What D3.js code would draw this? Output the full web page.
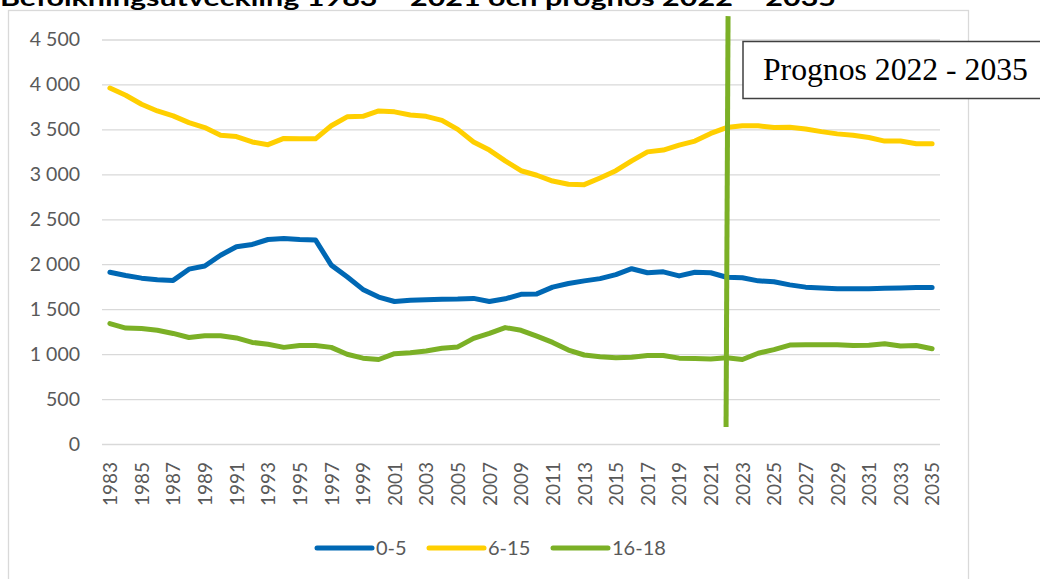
<!DOCTYPE html>
<html>
<head>
<meta charset="utf-8">
<script src="https://cdn.jsdelivr.net/npm/d3@7"></script>
<style>
  body { margin: 0; background: #fff; }
  svg { display: block; }
</style>
</head>
<body>
<script>
var WIDTH = 1040,
    HEIGHT = 579;

var years = [1983, 1984, 1985, 1986, 1987, 1988, 1989, 1990, 1991, 1992, 1993, 1994, 1995, 1996,
    1997, 1998, 1999, 2000, 2001, 2002, 2003, 2004, 2005, 2006, 2007, 2008, 2009,
    2010, 2011, 2012, 2013, 2014, 2015, 2016, 2017, 2018, 2019, 2020, 2021, 2022,
    2023, 2024, 2025, 2026, 2027, 2028, 2029, 2030, 2031, 2032, 2033, 2034, 2035];

var age0_5 = [1910, 1875, 1845, 1828, 1820, 1945, 1980, 2100, 2195, 2220, 2275, 2285, 2275, 2270,
    1990, 1860, 1720, 1635, 1585, 1600, 1605, 1610, 1613, 1620, 1585, 1615, 1665,
    1670, 1745, 1785, 1815, 1840, 1885, 1950, 1905, 1915, 1870, 1910, 1905, 1855,
    1850, 1815, 1805, 1770, 1745, 1735, 1728, 1728, 1728, 1732, 1736, 1740, 1740];

var age6_15 = [3960, 3880, 3780, 3705, 3650, 3575, 3520, 3435, 3420, 3360, 3330, 3400, 3395, 3395,
    3540, 3640, 3645, 3705, 3695, 3660, 3645, 3600, 3500, 3360, 3270, 3150, 3040,
    2990, 2925, 2890, 2885, 2960, 3040, 3150, 3250, 3270, 3325, 3370, 3455, 3520,
    3540, 3540, 3520, 3525, 3505, 3475, 3450, 3435, 3410, 3370, 3370, 3340, 3340];

var age16_18 = [1340, 1290, 1285, 1265, 1230, 1185, 1205, 1205, 1180, 1130, 1110, 1075, 1095, 1095,
    1075, 998, 955, 940, 1005, 1015, 1035, 1065, 1080, 1175, 1230, 1295, 1265,
    1200, 1130, 1045, 990, 970, 960, 965, 985, 985, 955, 950, 945, 960,
    940, 1010, 1050, 1100, 1105, 1105, 1105, 1095, 1098, 1115, 1090, 1095, 1060];

var seriesNames = ['0-5', '6-15', '16-18'];
var seriesColors = ['#0068b4', '#ffcf00', '#7bb026'];
var yTicks = [0, 500, 1000, 1500, 2000, 2500, 3000, 3500, 4000, 4500];

var titleText = 'Befolkningsutveckling 1983 \u2013 2021 och prognos 2022 \u2013 2035';
var prognosText = 'Prognos 2022 - 2035';
var prognosYear = 2022;

var LABEL_FONT = 'Lato, "Open Sans", sans-serif';
var LABEL_COLOR = '#595959';
var GRID_COLOR = '#d9d9d9';

var PLOT_LEFT = 102,
    PLOT_RIGHT = 940,
    PLOT_TOP = 39.5,
    PLOT_BOTTOM = 444;

var svg = d3.select('body').append('svg')
    .attr('width', WIDTH)
    .attr('height', HEIGHT);

// outer chart frame (bottom edge runs off the picture)
svg.append('rect')
    .attr('x', 8.5)
    .attr('y', 10.5)
    .attr('width', 960)
    .attr('height', 600)
    .attr('fill', '#fff')
    .attr('stroke', GRID_COLOR)
    .attr('stroke-width', 1.3);

// title, top half clipped by the picture edge like in the source
svg.append('text')
    .attr('x', 0)
    .attr('y', 6)
    .attr('font-family', LABEL_FONT)
    .attr('font-weight', 'bold')
    .attr('font-size', 22)
    .attr('textLength', 836)
    .attr('lengthAdjust', 'spacingAndGlyphs')
    .attr('fill', '#000')
    .text(titleText);

var x = d3.scalePoint()
    .domain(years)
    .range([PLOT_LEFT, PLOT_RIGHT])
    .padding(0.5);

var y = d3.scaleLinear()
    .domain([0, 4500])
    .range([PLOT_BOTTOM, PLOT_TOP]);

var fmt = d3.formatLocale({ decimal: ',', thousands: ' ', grouping: [3], currency: ['', ' kr'] }).format(',d');

// gridlines
svg.append('g')
    .attr('class', 'grid')
    .attr('transform', 'translate(' + PLOT_LEFT + ',0)')
    .call(d3.axisLeft(y).tickValues(yTicks).tickSize(-(PLOT_RIGHT - PLOT_LEFT)).tickFormat(''))
    .call(function (g) { g.select('.domain').remove() })
    .selectAll('line')
    .attr('stroke', GRID_COLOR)
    .attr('stroke-width', 1.3);

// y labels
svg.append('g')
    .attr('class', 'yAxis')
    .attr('transform', 'translate(' + PLOT_LEFT + ',0)')
    .call(d3.axisLeft(y).tickValues(yTicks).tickSize(0).tickPadding(22).tickFormat(fmt))
    .call(function (g) { g.select('.domain').remove() })
    .selectAll('text')
    .attr('font-family', LABEL_FONT)
    .attr('font-size', 19.5)
    .attr('fill', LABEL_COLOR);

// x labels, every second year, rotated
svg.append('g')
    .attr('class', 'xAxis')
    .attr('transform', 'translate(0,' + PLOT_BOTTOM + ')')
    .call(d3.axisBottom(x).tickValues(years.filter(function (d, i) { return i % 2 === 0 })).tickSize(0))
    .call(function (g) { g.select('.domain').remove() })
    .selectAll('text')
    .attr('font-family', LABEL_FONT)
    .attr('font-size', 19)
    .attr('fill', LABEL_COLOR)
    .attr('transform', 'rotate(-90)')
    .attr('text-anchor', 'end')
    .attr('x', -18)
    .attr('y', 0)
    .attr('dy', '0.36em');

var seriesData = [age0_5, age6_15, age16_18];

var line = d3.line()
    .x(function (d, i) { return x(years[i]) })
    .y(function (d) { return y(d) });

svg.append('g')
    .attr('class', 'lines')
    .selectAll('path')
    .data(seriesData)
    .enter()
    .append('path')
    .attr('d', line)
    .attr('fill', 'none')
    .attr('stroke', function (d, i) { return seriesColors[i] })
    .attr('stroke-width', 5)
    .attr('stroke-linejoin', 'round')
    .attr('stroke-linecap', 'round');

// forecast divider
var px = x(prognosYear);
svg.append('line')
    .attr('x1', px + 1.5)
    .attr('y1', y(4760))
    .attr('x2', px - 0.5)
    .attr('y2', y(190))
    .attr('stroke', seriesColors[2])
    .attr('stroke-width', 5);

// forecast box
svg.append('rect')
    .attr('x', 743)
    .attr('y', 41.5)
    .attr('width', 310)
    .attr('height', 57)
    .attr('fill', '#fff')
    .attr('stroke', '#404040')
    .attr('stroke-width', 1.5);

svg.append('text')
    .attr('x', 763)
    .attr('y', 80)
    .attr('font-family', '"Liberation Serif", "Times New Roman", serif')
    .attr('font-size', 31.7)
    .attr('fill', '#000')
    .text(prognosText);

// legend
var legendX = [317, 429, 553];
var legend = svg.append('g')
    .attr('class', 'legend')
    .selectAll('g')
    .data(seriesNames)
    .enter()
    .append('g')
    .attr('transform', function (d, i) { return 'translate(' + legendX[i] + ',548)' });

legend.append('line')
    .attr('x1', 0)
    .attr('x2', 55)
    .attr('stroke', function (d, i) { return seriesColors[i] })
    .attr('stroke-width', 5)
    .attr('stroke-linecap', 'round');

legend.append('text')
    .attr('x', 59)
    .attr('dy', '0.36em')
    .attr('font-family', LABEL_FONT)
    .attr('font-size', 20)
    .attr('fill', LABEL_COLOR)
    .text(function (d) { return d });
</script>
</body>
</html>
